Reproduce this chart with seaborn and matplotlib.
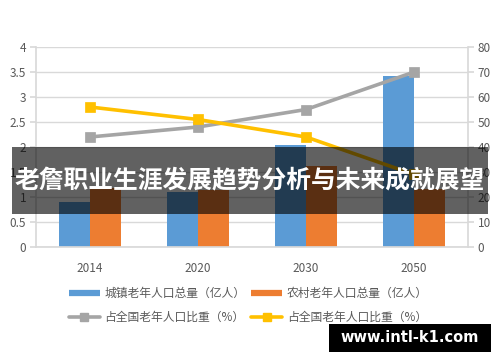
import matplotlib
matplotlib.use('Agg')
import matplotlib.pyplot as plt
import seaborn as sns
import pandas as pd
from matplotlib.lines import Line2D
from matplotlib.patches import Rectangle

years = ['2014', '2020', '2030', '2050']
urban = [0.90, 1.10, 2.03, 3.42]
rural = [1.18, 1.14, 1.62, 1.15]
share_gray = [44, 48, 55, 70]
share_yellow = [56, 51, 44, 29]
bar_labels = ['城镇老年人口总量（亿人）', '农村老年人口总量（亿人）']
line_labels = ['占全国老年人口比重（%）', '占全国老年人口比重（%）']
left_ticks = [0, 0.5, 1, 1.5, 2, 2.5, 3, 3.5, 4]
left_tick_labels = ['0', '0.5', '1', '1.5', '2', '2.5', '3', '3.5', '4']
right_ticks = [0, 10, 20, 30, 40, 50, 60, 70, 80]
title = '老詹职业生涯发展趋势分析与未来成就展望'
watermark = 'www.intl-k1.com'

BLUE, ORANGE, GRAY, YELLOW = '#5B9BD5', '#ED7D31', '#A5A5A5', '#FFC000'
TXT = '#595959'
GRID = '#D9D9D9'

sns.set_theme(style='white')
plt.rcParams['font.family'] = ['Noto Sans CJK SC', 'DejaVu Sans']

bars = pd.DataFrame({
    'year': years * 2,
    'value': urban + rural,
    'series': ['u'] * len(years) + ['r'] * len(years),
})
lines = pd.DataFrame({
    'year': years * 2,
    'value': share_gray + share_yellow,
    'series': ['g'] * len(years) + ['y'] * len(years),
})

fig = plt.figure(figsize=(5.0, 3.62), dpi=100)
ax = fig.add_axes([0.072, 0.318, 0.864, 0.552])

sns.barplot(data=bars, x='year', y='value', hue='series', order=years,
            hue_order=['u', 'r'], palette={'u': BLUE, 'r': ORANGE},
            width=0.57, gap=0, saturation=1, legend=False, ax=ax, zorder=2,
            linewidth=0, edgecolor='none')
ax.set_ylim(0, 4)
ax.set_yticks(left_ticks)
ax.set_yticklabels(left_tick_labels)
ax.yaxis.grid(True, color=GRID, linewidth=1.0, zorder=0)
ax.set_axisbelow(True)
ax.set_xlabel('')
ax.set_ylabel('')

ax2 = ax.twinx()
sns.pointplot(data=lines, x='year', y='value', hue='series', order=years,
              hue_order=['g', 'y'], palette={'g': GRAY, 'y': YELLOW},
              markers='s', linestyles='-', errorbar=None, legend=False,
              markersize=5.3, linewidth=2.6, ax=ax2)
ax2.set_ylim(0, 80)
ax2.set_yticks(right_ticks)
ax2.set_ylabel('')
ax2.set_xlabel('')
ax.set_xlim(-0.5, len(years) - 0.5)

for a in (ax, ax2):
    for s in a.spines.values():
        s.set_visible(False)
ax.spines['left'].set_visible(True)
ax.spines['left'].set_color(GRID)
ax.spines['bottom'].set_visible(True)
ax.spines['bottom'].set_color(GRID)
ax2.spines['right'].set_visible(True)
ax2.spines['right'].set_color(GRID)

ax.tick_params(axis='y', left=True, length=4, color=GRID, labelcolor=TXT,
               labelsize=8.5, pad=3)
ax.tick_params(axis='x', bottom=False, labelcolor=TXT, labelsize=8.5, pad=5)
ax2.tick_params(axis='y', right=True, length=4, color=GRID, labelcolor=TXT,
                labelsize=8.5, pad=3)

handles = [
    Line2D([0], [0], color=BLUE, lw=4.5, solid_capstyle='butt'),
    Line2D([0], [0], color=GRAY, lw=2.6, marker='s', markersize=5.3),
    Line2D([0], [0], color=ORANGE, lw=4.5, solid_capstyle='butt'),
    Line2D([0], [0], color=YELLOW, lw=2.6, marker='s', markersize=5.3),
]
labels = [bar_labels[0], line_labels[0], bar_labels[1], line_labels[1]]
fig.legend(handles, labels, ncol=2, loc='upper left',
           bbox_to_anchor=(0.138, 0.207), frameon=False,
           prop={'family': ['Noto Sans CJK SC', 'DejaVu Sans'], 'size': 8.5},
           labelcolor=TXT, handlelength=2.6, handletextpad=0.4,
           columnspacing=0.5, labelspacing=0.95, borderpad=0, borderaxespad=0)

# overlay banner
fig.add_artist(Rectangle((0.024, 1 - 214 / 362), 0.952, 67 / 362,
                         transform=fig.transFigure, facecolor='black',
                         alpha=0.62, edgecolor='none', zorder=10))
fig.text(0.5, 1 - 181 / 362, title, ha='center', va='center', color='white',
         fontsize=17.8, fontweight='bold', zorder=11,
         family=['Noto Sans CJK SC', 'DejaVu Sans'])

# watermark
fig.add_artist(Rectangle((329 / 500, 1 - 352 / 362), 162 / 500, 28 / 362,
                         transform=fig.transFigure, facecolor='black',
                         edgecolor='none', zorder=10))
fig.text(410 / 500, 1 - 338 / 362, watermark, ha='center', va='center',
         color='white', fontsize=10.5, fontweight='bold', zorder=11,
         family=['DejaVu Sans'])

fig.savefig('out.png', dpi=100)
